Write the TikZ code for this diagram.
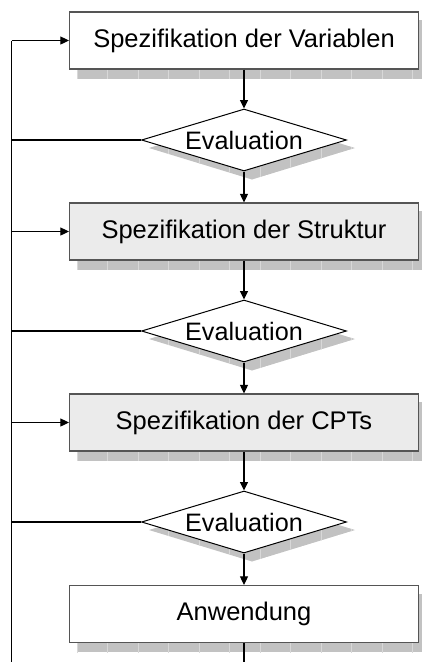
\documentclass[tikz,border=0pt]{standalone}
\usepackage{fontspec}
\setmainfont{Liberation Sans}
\usetikzlibrary{shapes.geometric,arrows.meta,backgrounds}
\definecolor{framegray}{HTML}{555555}
\definecolor{panelgray}{HTML}{EBEBEB}
\definecolor{shadowgray}{HTML}{C2C2C2}
\definecolor{grain}{HTML}{D8D8D8}
\begin{document}
\begin{tikzpicture}[x=1pt,y=-1pt,
  stepbox/.style={rectangle, draw=framegray, line width=1.2pt, fill=white,
    minimum width=349pt, minimum height=57pt, inner sep=0pt,
    font=\fontsize{25.5}{30}\selectfont},
  decision/.style={diamond, draw=black, line width=1pt, fill=white,
    minimum width=205pt, minimum height=62pt, aspect=3.3, inner sep=0pt,
    font=\fontsize{25.2}{30}\selectfont},
  flow/.style={draw=black, line width=1.1pt},
  arr/.style={flow, -{Triangle[length=8.5pt,width=8pt]}},
]
\useasboundingbox (0,0) rectangle (421,662);

% process steps and checks
\node[stepbox] (v) at (244,40.5) {Spezifikation der Variablen};
\node[decision] (e1) at (244,140) {Evaluation};
\node[stepbox, fill=panelgray] (s) at (244,231.5) {Spezifikation der Struktur};
\node[decision] (e2) at (244,331) {Evaluation};
\node[stepbox, fill=panelgray] (c) at (244,422.5) {Spezifikation der CPTs};
\node[decision] (e3) at (244,522) {Evaluation};
\node[stepbox] (a) at (244,614) {Anwendung};

% drop shadows with a faint grain
\begin{scope}[on background layer]
  \foreach \n in {v,s,c,a}{
    \begin{scope}
      \clip ([shift={(8,9)}]\n.north west) rectangle ([shift={(8,9)}]\n.south east);
      \fill[shadowgray] ([shift={(8,9)}]\n.north west) rectangle ([shift={(8,9)}]\n.south east);
      \foreach \x in {77,107.5,138,168.5,199,229.5,260,290.5,321,351.5,382,412.5}
        \draw[grain, line width=1pt] (\x,0) -- (\x,662);
    \end{scope}
  }
  \foreach \n in {e1,e2,e3}{
    \begin{scope}
      \clip ([shift={(8,8)}]\n.north) -- ([shift={(8,8)}]\n.east)
        -- ([shift={(8,8)}]\n.south) -- ([shift={(8,8)}]\n.west) -- cycle;
      \fill[shadowgray] ([shift={(8,8)}]\n.north) -- ([shift={(8,8)}]\n.east)
        -- ([shift={(8,8)}]\n.south) -- ([shift={(8,8)}]\n.west) -- cycle;
      \foreach \x in {77,107.5,138,168.5,199,229.5,260,290.5,321,351.5,382,412.5}
        \draw[grain, line width=1pt] (\x,0) -- (\x,662);
    \end{scope}
  }
\end{scope}

% feedback rail on the left
\coordinate (top) at (11.5,40.5);
\coordinate (bot) at (11.5,662);

% main flow
\draw[arr] (v) -- (e1);
\draw[arr] (e1) -- (s);
\draw[arr] (s) -- (e2);
\draw[arr] (e2) -- (c);
\draw[arr] (c) -- (e3);
\draw[arr] (e3) -- (a);
\draw[flow] (a.south) -- (a.south |- bot);

% loops back from each evaluation
\draw[flow] (bot) -- (top);
\draw[arr] (top) -- (v.west);
\draw[flow] (e1.west) -- (e1.west -| top);
\draw[arr] (s.west -| top) -- (s.west);
\draw[flow] (e2.west) -- (e2.west -| top);
\draw[arr] (c.west -| top) -- (c.west);
\draw[flow] (e3.west) -- (e3.west -| top);
\end{tikzpicture}
\end{document}
